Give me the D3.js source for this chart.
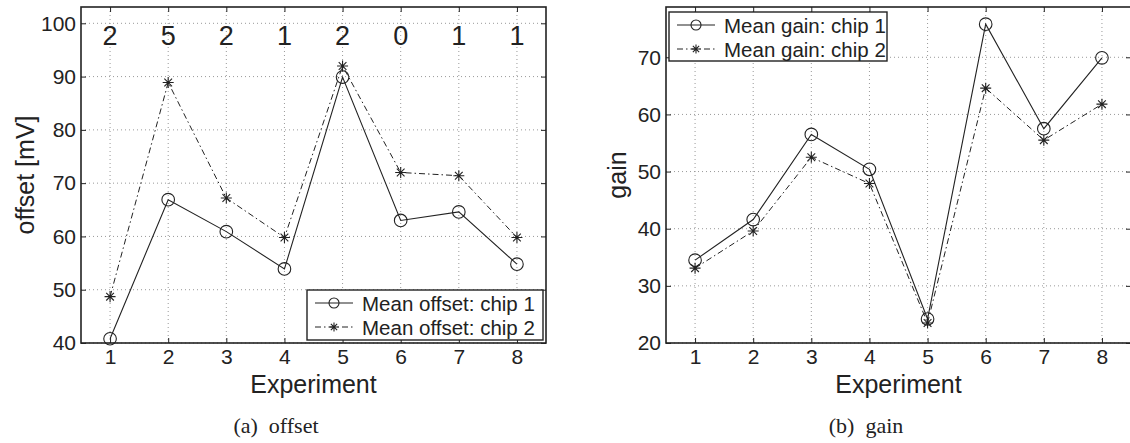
<!DOCTYPE html>
<html>
<head>
<meta charset="utf-8">
<script src="https://cdn.jsdelivr.net/npm/d3@7"></script>
<style>
  body { margin: 0; background: #fff; }
  text { font-family: "Liberation Sans", Arial, Helvetica, sans-serif; fill: #222; }
  .caption { font-family: "Liberation Serif", "Times New Roman", serif; }
</style>
</head>
<body>
<script>
// data
var experiments = [1, 2, 3, 4, 5, 6, 7, 8];
var offsetChip1 = [40.8, 66.9, 60.9, 53.9, 89.9, 63.0, 64.6, 54.8];
var offsetChip2 = [48.7, 88.9, 67.2, 59.8, 92.0, 72.0, 71.4, 59.8];
var topCounts = [2, 5, 2, 1, 2, 0, 1, 1];
var gainChip1 = [34.5, 41.6, 56.5, 50.4, 24.2, 75.8, 57.5, 69.9];
var gainChip2 = [33.1, 39.6, 52.5, 47.9, 23.5, 64.6, 55.5, 61.8];
var offsetTicks = [40, 50, 60, 70, 80, 90, 100];
var gainTicks = [20, 30, 40, 50, 60, 70];

var svg = d3.select("body").append("svg")
  .attr("width", 1130)
  .attr("height", 443);

var ink = "#222";

var drawStar = function(g, x, y, s){
  var d = "M" + x + "," + (y - s) + "L" + x + "," + (y + s)
    + "M" + (x - s) + "," + y + "L" + (x + s) + "," + y
    + "M" + (x - s*0.7) + "," + (y - s*0.7) + "L" + (x + s*0.7) + "," + (y + s*0.7)
    + "M" + (x - s*0.7) + "," + (y + s*0.7) + "L" + (x + s*0.7) + "," + (y - s*0.7);
  g.append("path").attr("d", d).attr("stroke", ink).attr("stroke-width", 1.1).attr("fill", "none");
};

var drawCircle = function(g, x, y, r){
  g.append("circle").attr("cx", x).attr("cy", y).attr("r", r)
    .attr("fill", "none").attr("stroke", ink).attr("stroke-width", 1.1);
};

function drawPanel(opt){
  var g = svg.append("g");
  var x = d3.scaleLinear().domain([0.5, 8.5]).range([opt.left, opt.right]);
  var y = d3.scaleLinear().domain(opt.yDomain).range([opt.bottom, opt.top]);

  // grid
  g.selectAll(".gx").data(experiments).enter().append("line")
    .attr("x1", function(d){ return x(d); }).attr("x2", function(d){ return x(d); })
    .attr("y1", opt.top).attr("y2", opt.bottom)
    .attr("stroke", "#999").attr("stroke-width", 1).attr("stroke-dasharray", "1,3");
  g.selectAll(".gy").data(opt.yTicks).enter().append("line")
    .attr("y1", function(d){ return y(d); }).attr("y2", function(d){ return y(d); })
    .attr("x1", opt.left).attr("x2", opt.right)
    .attr("stroke", "#999").attr("stroke-width", 1).attr("stroke-dasharray", "1,3");

  // axes (ticks pointing inward)
  var bottomAxis = d3.axisBottom(x).tickValues(experiments).tickSizeInner(-5).tickSizeOuter(0).tickPadding(6);
  var topAxis = d3.axisTop(x).tickValues(experiments).tickSizeInner(-5).tickSizeOuter(0).tickFormat("");
  var leftAxis = d3.axisLeft(y).tickValues(opt.yTicks).tickSizeInner(-5).tickSizeOuter(0).tickPadding(5);
  var rightAxis = d3.axisRight(y).tickValues(opt.yTicks).tickSizeInner(-5).tickSizeOuter(0).tickFormat("");

  var ax = [
    g.append("g").attr("transform", "translate(0," + opt.bottom + ")").call(bottomAxis),
    g.append("g").attr("transform", "translate(0," + opt.top + ")").call(topAxis),
    g.append("g").attr("transform", "translate(" + opt.left + ",0)").call(leftAxis),
    g.append("g").attr("transform", "translate(" + opt.right + ",0)").call(rightAxis)
  ];
  ax.forEach(function(a){
    a.select(".domain").remove();
    a.selectAll(".tick line").attr("stroke", ink).attr("stroke-width", 1);
    a.selectAll("text").style("font-size", "21px").attr("fill", ink)
      .style("font-family", "'Liberation Sans', Arial, sans-serif");
  });

  // box
  g.append("rect").attr("x", opt.left).attr("y", opt.top)
    .attr("width", opt.right - opt.left).attr("height", opt.bottom - opt.top)
    .attr("fill", "none").attr("stroke", ink).attr("stroke-width", 1.6);

  // lines
  var line = d3.line().x(function(d, i){ return x(experiments[i]); }).y(function(d){ return y(d); });
  g.append("path").datum(opt.s1).attr("d", line)
    .attr("fill", "none").attr("stroke", ink).attr("stroke-width", 1.1);
  g.append("path").datum(opt.s2).attr("d", line)
    .attr("fill", "none").attr("stroke", ink).attr("stroke-width", 1)
    .attr("stroke-dasharray", "6,3,1.5,3");

  opt.s1.forEach(function(v, i){ drawCircle(g, x(experiments[i]), y(v), 6.3); });
  opt.s2.forEach(function(v, i){ drawStar(g, x(experiments[i]), y(v), 5.5); });

  // labels
  g.append("text").attr("x", (opt.left + opt.right) / 2).attr("y", 393)
    .attr("text-anchor", "middle").style("font-size", "25px").text("Experiment");
  g.append("text").attr("transform", "translate(" + opt.yLabelX + "," + ((opt.top + opt.bottom) / 2) + ") rotate(-90)")
    .attr("text-anchor", "middle").style("font-size", "25px").text(opt.yLabel);
  g.append("text").attr("class", "caption").attr("x", opt.captionX).attr("y", 433)
    .attr("text-anchor", "middle").style("font-size", "22px").attr("xml:space", "preserve").text(opt.caption);

  // legend
  var L = opt.legend;
  var lg = g.append("g");
  lg.append("rect").attr("x", L.x).attr("y", L.y).attr("width", L.w).attr("height", L.h)
    .attr("fill", "#fff").attr("stroke", ink).attr("stroke-width", 1.4);
  var row1 = L.y + 13, row2 = L.y + 37;
  lg.append("line").attr("x1", L.x + 8).attr("x2", L.x + 46).attr("y1", row1).attr("y2", row1)
    .attr("stroke", ink).attr("stroke-width", 1.1);
  drawCircle(lg, L.x + 27, row1, 5);
  lg.append("line").attr("x1", L.x + 8).attr("x2", L.x + 46).attr("y1", row2).attr("y2", row2)
    .attr("stroke", ink).attr("stroke-width", 1).attr("stroke-dasharray", "6,3,1.5,3");
  drawStar(lg, L.x + 27, row2, 4.5);
  lg.append("text").attr("x", L.x + 55).attr("y", row1 + 7.5).style("font-size", "20.5px").text(L.t1);
  lg.append("text").attr("x", L.x + 55).attr("y", row2 + 7.5).style("font-size", "20.5px").text(L.t2);

  return { g: g, x: x, y: y };
}

var left = drawPanel({
  left: 81, right: 546, top: 7, bottom: 343,
  yDomain: [40, 103.06], yTicks: offsetTicks,
  s1: offsetChip1, s2: offsetChip2,
  yLabel: "offset [mV]", yLabelX: 34,
  caption: "(a)  offset", captionX: 276,
  legend: { x: 307, y: 290, w: 236, h: 50, t1: "Mean offset: chip 1", t2: "Mean offset: chip 2" }
});

// counts along the top of the offset panel
left.g.selectAll(".count").data(topCounts).enter().append("text")
  .attr("x", function(d, i){ return left.x(experiments[i]); })
  .attr("y", 45)
  .attr("text-anchor", "middle")
  .style("font-size", "27px")
  .text(function(d){ return d; });

var right = drawPanel({
  left: 666, right: 1131, top: 7, bottom: 343,
  yDomain: [20, 78.8], yTicks: gainTicks,
  s1: gainChip1, s2: gainChip2,
  yLabel: "gain", yLabelX: 626,
  caption: "(b)  gain", captionX: 866,
  legend: { x: 669, y: 12, w: 218, h: 49, t1: "Mean gain: chip 1", t2: "Mean gain: chip 2" }
});
</script>
</body>
</html>
